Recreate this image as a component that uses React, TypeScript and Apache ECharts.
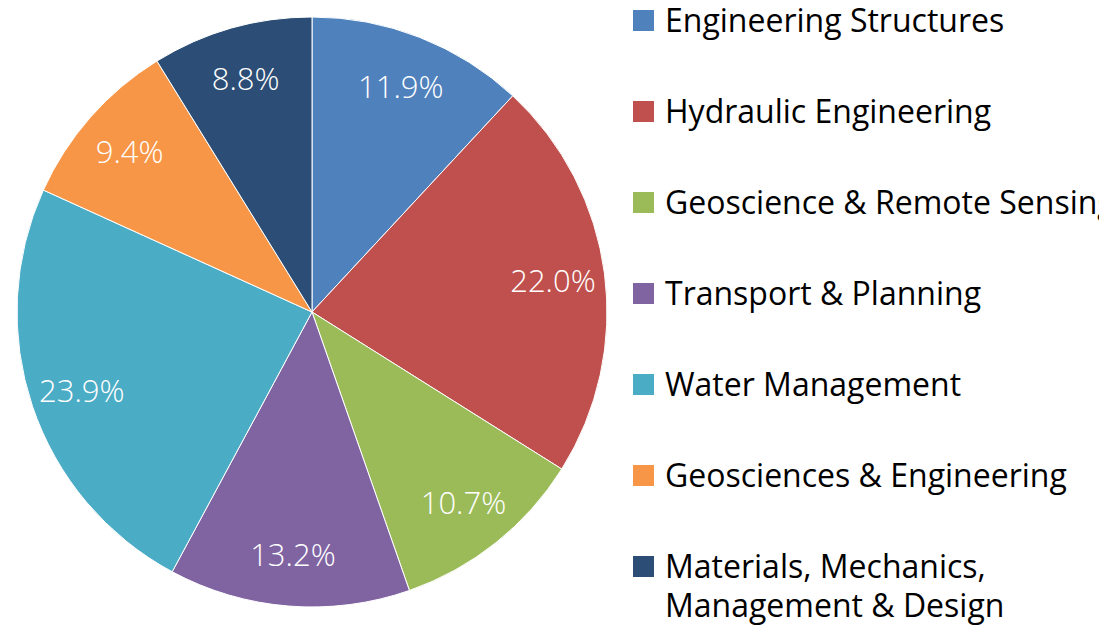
import React, { useEffect, useRef } from "react";
import * as echarts from "echarts";

const categories = [
  "Engineering Structures",
  "Hydraulic Engineering",
  "Geoscience & Remote Sensing",
  "Transport & Planning",
  "Water Management",
  "Geosciences & Engineering",
  "Materials, Mechanics,\nManagement & Design",
];
const values = [11.9, 22.0, 10.7, 13.2, 23.9, 9.4, 8.8];
const colors = ["#4F81BD", "#C0504D", "#9BBB59", "#8064A2", "#4BACC6", "#F79646", "#2C4D75"];

const FONT = "'Open Sans', 'DejaVu Sans', sans-serif";

export default function App() {
  const ref = useRef<HTMLDivElement>(null);
  useEffect(() => {
    if (!ref.current) return;
    const chart = echarts.init(ref.current, undefined, { renderer: "svg" });
    const data = categories.map((name, i) => ({
      name,
      value: values[i],
      itemStyle: { color: colors[i] },
    }));
    const legendItems: any[] = [];
    categories.forEach((name, i) => {
      const top = 10 + i * 91;
      legendItems.push({
        type: "rect",
        shape: { x: 633, y: top, width: 21, height: 21 },
        style: { fill: colors[i] },
        silent: true,
      });
      legendItems.push({
        type: "text",
        x: 665,
        y: top + 10.5 - 19.5 - 1,
        style: {
          text: name,
          fill: "#000000",
          fontSize: 32,
          fontWeight: 400,
          fontFamily: FONT,
          lineHeight: 39,
          verticalAlign: "top",
          align: "left",
        },
        silent: true,
      });
    });
    chart.setOption({
      animation: false,
      backgroundColor: "#ffffff",
      graphic: legendItems,
      series: [
        {
          type: "pie",
          center: [312, 312],
          radius: [0, 295],
          startAngle: 90,
          clockwise: true,
          label: { show: false },
          labelLine: { show: false },
          itemStyle: { borderColor: "#ffffff", borderWidth: 1 },
          emphasis: { disabled: true },
          data,
        },
        {
          type: "pie",
          center: [312, 312],
          radius: [190, 290],
          startAngle: 90,
          clockwise: true,
          silent: true,
          itemStyle: { color: "rgba(0,0,0,0)" },
          label: {
            show: true,
            position: "inside",
            color: "#ffffff",
            fontSize: 31,
            fontWeight: 300,
            fontFamily: FONT,
            formatter: (p: any) => `${Number(p.value).toFixed(1)}%`,
          },
          labelLine: { show: false },
          emphasis: { disabled: true },
          data: categories.map((name, i) => ({ name, value: values[i] })),
        },
      ],
    });
    return () => chart.dispose();
  }, []);
  return (
    <div
      ref={ref}
      style={{ position: "absolute", left: 0, top: 0, width: 1099, height: 632 }}
    />
  );
}
